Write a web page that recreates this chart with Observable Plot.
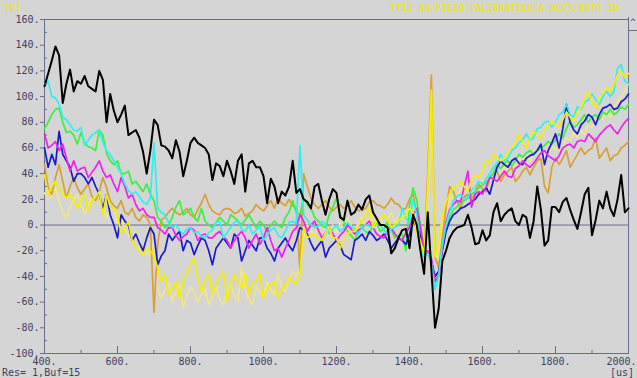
<!DOCTYPE html>
<html><head><meta charset="utf-8">
<script src="https://cdn.jsdelivr.net/npm/d3@7"></script>
<script src="https://cdn.jsdelivr.net/npm/@observablehq/plot@0.6"></script>
<style>
html,body{margin:0;padding:0;background:#d5d5d5;}
#wrap{position:relative;width:637px;height:378px;overflow:hidden;font-family:"DejaVu Sans Mono",monospace;}
.lbl{position:absolute;white-space:pre;line-height:1;}
.yel{color:#e9e23c;font-size:9.5px;font-weight:bold;}
.axt{color:#3e3e68;font-size:10px;}
#scroll{position:absolute;left:628px;top:17px;width:8px;height:13px;border-left:1px solid #6b6b8c;border-bottom:1px solid #6b6b8c;font-size:9px;color:#3e3e68;text-align:center;line-height:11px;}
</style></head>
<body><div id="wrap"></div>
<script>
// time axis (µs), sampled every 10 µs from 400 to 2000
const times = d3.range(400, 2001, 10);
const yMajorTicks = d3.range(-100, 161, 20);
const yMinorTicks = d3.range(-90, 160, 20);
const xMajorTicks = d3.range(400, 2001, 200);
const xMinorTicks = d3.range(500, 2000, 200);
const xLabelTicks = d3.range(400, 1801, 200);
const xLastTick = [2000];

const seriesNames = ["pale", "orange", "green", "blue", "magenta", "cyan", "yellow", "black"];
const seriesColors = ["#f2e58c", "#d8a033", "#3cf03c", "#1a1acc", "#f020f0", "#2ef0f0", "#f4f000", "#141414"];

const black = [
108,118,128,139,132,95,110,121,104,112,
110,116,108,106,104,120,113,80,102,89,
80,86,93,70,72,74,68,57,40,58,
82,78,62,61,58,52,66,57,38,50,
64,68,64,62,60,55,35,48,46,38,
50,42,32,50,55,26,48,50,45,45,
38,17,36,30,17,26,23,30,50,25,
28,20,18,13,30,32,19,8,20,28,
25,6,4,19,8,10,16,12,20,23,
10,5,0,0,-2,-22,-18,-10,-4,-3,
-18,8,0,-20,-38,10,-35,-80,-65,-28,
-20,-10,-5,-2,-1,0,8,-2,-15,-14,
-4,-12,-8,10,17,3,8,11,13,3,
0,8,6,-10,3,30,12,-16,-12,14,
14,10,18,21,12,4,-3,10,24,29,
-8,4,19,13,26,13,7,20,39,10,
13];

const cyan = [
108,112,100,99,94,84,82,78,74,73,
76,62,66,70,72,74,64,58,55,50,
45,40,32,27,24,26,22,18,16,21,
64,13,10,8,2,-2,0,-4,-7,-3,
-2,-6,-5,-9,-10,-6,-4,2,3,-10,
-6,-2,2,3,-3,-5,0,-7,-4,-1,
-12,-8,-4,-2,-8,-10,-5,2,3,1,
62,8,4,0,-2,-1,3,0,-7,-3,
0,-5,-2,2,-1,-3,-7,-2,0,-1,
-2,3,1,-4,-7,-3,-2,0,13,5,
2,20,8,-18,-25,-22,-30,-50,-40,-15,
0,10,19,22,24,20,22,27,30,34,
32,36,40,45,48,55,50,52,58,60,
64,66,71,66,68,75,76,80,81,76,
80,86,88,94,86,84,92,90,96,97,
102,98,94,100,104,100,104,122,125,112,
110];

const green = [
75,80,86,90,91,80,72,73,70,63,
72,64,61,60,58,74,70,56,50,47,
50,40,40,42,32,34,30,26,32,24,
19,6,3,-2,0,6,14,19,8,10,
13,6,3,13,3,0,-2,2,6,3,
0,8,6,3,0,4,8,3,-2,3,
0,-5,0,3,0,-2,6,10,19,10,
8,21,16,13,6,3,0,-2,8,14,
21,8,3,-5,-8,-12,-5,-2,-5,-7,
0,2,-5,-3,3,-4,-10,-8,-7,-20,
15,29,19,0,-20,-20,-28,-42,-38,-18,
-5,6,12,14,17,19,21,24,26,29,
31,33,37,40,47,44,48,50,46,50,
55,53,56,58,55,58,60,62,65,63,
66,71,68,75,81,76,78,82,86,80,
84,86,82,88,86,90,86,88,92,90,
94];

const blue = [
60,45,55,47,73,55,50,45,34,40,
40,37,32,37,30,24,13,24,8,0,
-10,8,3,0,-12,-7,-14,-20,-10,-2,
-7,-31,-24,-20,-7,-12,-8,-5,-20,-12,
-14,-23,-16,-10,-12,-20,-31,-18,-14,-10,
-14,-18,-7,-10,-28,-20,-12,-16,-20,-10,
-10,-18,-22,-28,-18,-14,-10,-16,-20,-12,
-2,-4,-7,-14,-20,-16,-12,-25,-18,-15,
-12,-16,-23,-25,-27,-12,-10,-7,-12,-5,
-8,-12,-10,-7,-12,-18,-14,-10,-12,-15,
-7,3,-2,-7,-23,-22,-28,-40,-36,-20,
-5,3,8,10,13,14,16,18,20,24,
26,29,24,35,45,50,47,45,50,52,
48,47,52,54,55,58,63,47,58,64,
71,60,75,94,80,74,71,78,81,86,
84,78,86,91,92,94,90,91,96,98,
102];

const magenta = [
71,60,62,65,58,63,52,42,50,42,
44,45,37,41,45,50,42,37,39,32,
26,37,30,21,24,16,11,13,8,6,
6,-2,-4,-7,-2,-2,-8,-12,-9,-7,
-2,-4,-12,-8,-7,-10,-10,-7,-5,-9,
-12,-18,-12,-8,-5,-10,-18,-12,-7,-15,
-10,-2,-12,-20,-18,-25,-18,-12,-5,-2,
8,3,-5,0,3,-4,-10,-6,-2,-7,
-12,-8,-5,0,-3,-7,-4,-2,0,3,
-2,-7,-9,-10,-5,-2,-7,-10,-12,-6,
-2,8,13,-2,-20,-20,-26,-44,-40,-18,
2,12,16,19,18,30,42,14,24,26,
24,30,37,36,34,38,42,38,37,44,
46,50,47,45,48,52,56,58,54,52,
50,54,60,62,63,60,65,66,65,71,
68,65,70,73,76,78,74,71,76,80,
83];

const orange = [
47,29,24,37,47,34,21,30,37,29,
24,28,32,22,19,26,37,29,19,15,
13,19,10,8,13,6,3,8,6,0,
-68,-15,4,6,10,13,10,8,10,13,
8,6,12,17,24,16,11,9,8,12,
13,12,9,10,13,7,9,11,16,13,
11,15,19,13,21,17,15,20,15,13,
-36,40,30,21,16,13,16,19,14,11,
14,16,13,15,19,14,11,12,13,18,
19,16,15,13,16,21,17,16,12,13,
20,24,8,-8,-22,40,117,-25,-33,-10,
14,30,26,18,13,22,24,19,26,32,
28,26,37,40,42,34,39,42,45,34,
37,42,45,39,45,50,52,30,25,45,
52,47,52,58,45,50,55,60,55,58,
60,68,52,56,60,50,54,55,60,62,
65];

const yellow = [
39,24,30,34,29,24,21,24,19,13,
20,24,11,19,22,26,8,24,14,13,
8,-7,-2,3,-12,-18,-20,-23,-18,-20,
-24,-33,-44,-38,-54,-50,-44,-57,-44,-38,
-30,-26,-41,-52,-44,-38,-54,-46,-40,-36,
-59,-46,-38,-44,-49,-38,-54,-46,-44,-38,
-57,-50,-46,-44,-57,-50,-46,-41,-44,-46,
-38,-2,-10,-8,-7,-10,-12,-6,-2,-10,
-10,-18,-12,-7,-5,-5,0,3,8,13,
-2,3,5,8,4,-2,0,3,6,8,
13,10,-7,-12,-23,30,105,-25,-15,8,
18,24,29,30,34,30,26,36,39,37,
42,50,48,55,52,50,52,56,60,64,
71,65,60,68,73,70,68,74,78,81,
78,76,82,88,84,81,88,91,98,104,
96,91,99,102,107,104,109,117,120,115,
118];

const pale = [
25,20,22,29,18,10,5,14,20,24,
16,8,15,22,18,24,14,6,12,15,
2,5,-3,-8,-12,-6,-18,-23,-20,-25,
-12,-49,-57,-50,-45,-59,-52,-46,-64,-55,
-48,-52,-60,-54,-50,-62,-56,-48,-58,-62,
-52,-46,-55,-60,-33,-50,-58,-62,-48,-52,
-56,-44,-50,-54,-38,-48,-52,-42,-36,-40,
-34,-8,0,-4,-8,-2,4,-3,-8,0,
-6,2,-4,5,0,-6,3,6,-2,4,
8,0,5,-2,4,10,2,6,12,4,
8,15,2,-12,-20,25,92,-22,-26,0,
12,20,24,20,28,24,30,26,32,30,
35,32,38,36,42,40,46,42,48,45,
52,48,54,50,56,58,52,46,56,62,
58,64,60,68,66,72,68,74,70,78,
76,80,86,82,88,84,92,96,100,104,
110];

const seriesValues = {pale, orange, green, blue, magenta, cyan, yellow, black};

const colored = [];
const blackRows = [];
for (const name of seriesNames) {
  const vals = seriesValues[name];
  if (vals.length !== times.length) console.error(name, vals.length);
  const target = name === "black" ? blackRows : colored;
  times.forEach((t, i) => target.push({t, v: vals[i], s: name}));
}

const axisColor = "#6b6b8c";
const textColor = "#3e3e68";

const chart = Plot.plot({
  width: 637, height: 378,
  marginLeft: 44, marginRight: 9, marginTop: 19, marginBottom: 25,
  style: {background: "#d5d5d5", fontFamily: "DejaVu Sans Mono, monospace", fontSize: "10px", color: textColor},
  x: {domain: [400, 2000], label: null},
  y: {domain: [-100, 160], label: null},
  color: {domain: seriesNames, range: seriesColors},
  marks: [
    Plot.frame({stroke: axisColor}),
    Plot.ruleY([0], {stroke: axisColor, strokeWidth: 1}),
    Plot.line(colored, {x: "t", y: "v", z: "s", stroke: "s", strokeWidth: 1.7, strokeLinejoin: "round"}),
    Plot.line(blackRows, {x: "t", y: "v", z: "s", stroke: "s", strokeWidth: 2, strokeLinejoin: "round"}),
    Plot.axisY(yMajorTicks, {tickSize: 4, tickPadding: 1, stroke: axisColor, fill: textColor, tickFormat: d => d + "."}),
    Plot.axisY(yMinorTicks, {tickSize: -3, text: null, stroke: axisColor}),
    Plot.axisX(xMajorTicks, {tickSize: -7, text: null, stroke: axisColor}),
    Plot.axisX(xMinorTicks, {tickSize: -3, text: null, stroke: axisColor}),
    Plot.axisX(xLabelTicks, {tickSize: 0, tickPadding: 4, fill: textColor, tickFormat: d => d + "."}),
    Plot.axisX(xLastTick, {tickSize: 0, tickPadding: 4, fill: textColor, textAnchor: "end", dx: 8, tickFormat: d => d + "."})
  ]
});
const wrap = document.getElementById("wrap");
wrap.appendChild(chart);

function addLabel(text, cls, css) {
  const d = document.createElement("div");
  d.className = "lbl " + cls;
  d.textContent = text;
  Object.assign(d.style, css);
  wrap.appendChild(d);
}
addLabel("[V]", "yel", {left: "4px", top: "3px"});
addLabel("TT12 AH/PIEZO CALIBRATION/A.ACC7/8YTG 3D", "yel", {left: "390px", top: "3px"});
addLabel("Res= 1,Buf=15", "axt", {left: "2px", top: "368px"});
addLabel("[us]", "axt", {left: "610px", top: "368px"});
const sc = document.createElement("div");
sc.id = "scroll"; sc.textContent = "^";
wrap.appendChild(sc);
</script>
</body></html>
